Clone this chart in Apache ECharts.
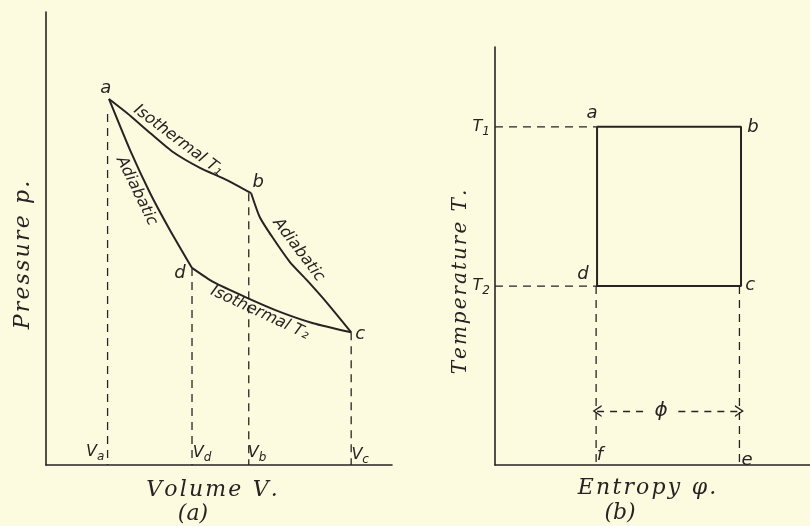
<!DOCTYPE html>
<html lang="en">
<head>
    <meta charset="UTF-8">
    <title>Carnot cycle</title>
    <script type="text/javascript" src="https://cdn.jsdelivr.net/npm/echarts/dist/echarts.min.js"></script>
</head>
<style>
    html, body {
        margin: 0;
        padding: 0;
        background-color: #fcfbe0;
    }
    #chart{
        width: 810px;
        height: 526px;
    }
</style>
<body>
<div id="chart"></div>
</body>
<script>
    // (a) pressure-volume diagram, arbitrary units 0..10
    var isoT1 = [[1.82, 8.08], [2.34, 7.77], [3.01, 7.33], [3.67, 6.91], [4.45, 6.56], [5.23, 6.29], [5.93, 6.00]];
    var adiabBC = [[5.93, 6.00], [6.18, 5.47], [6.56, 5.01], [7.05, 4.48], [7.54, 4.08], [8.12, 3.58], [8.82, 2.93]];
    var isoT2 = [[4.22, 4.35], [4.83, 4.04], [5.81, 3.69], [6.76, 3.38], [7.72, 3.13], [8.82, 2.93]];
    var adiabAD = [[1.82, 8.08], [2.43, 6.95], [3.01, 6.00], [3.58, 5.19], [4.22, 4.35]];
    // volume drops: [V, p at the corner]
    var volDrops = [[1.78, 7.75], [4.22, 4.35], [5.86, 6.00], [8.82, 2.93]];
    var volNames = ['a', 'd', 'b', 'c'];
    var pvCorners = [[1.73, 8.32], [6.13, 6.23], [3.87, 4.24], [9.08, 2.88]];
    var pvCornerNames = ['a', 'b', 'd', 'c'];
    var volLabelPos = [[1.42, 0.29], [4.51, 0.26], [6.10, 0.26], [9.08, 0.22]];
    var pvCurveText = ['Isothermal T\u2081', 'Adiabatic', 'Adiabatic', 'Isothermal T\u2082'];
    var pvCurveTextPos = [[3.82, 7.17], [2.62, 6.05], [7.30, 4.75], [6.18, 3.36]];
    var pvCurveTextRot = [-37, -64, -53, -25];

    // (b) temperature-entropy diagram
    var entropyAB = [3.24, 7.81];   // phi at a/d and b/c
    var tempLevels = [8.09, 4.28];  // T1, T2
    var tsCorners = [[3.08, 8.42], [8.19, 8.09], [8.10, 4.31], [2.79, 4.55]];
    var tsCornerNames = ['a', 'b', 'c', 'd'];
    var feLabelPos = [[3.33, 0.24], [8.00, 0.12]];
    var feNames = ['f', 'e'];
    var phiArrowT = 1.29;
    var phiGap = [4.72, 5.82];

    var ink = '#2a2222';
    var font = 'DejaVu Sans';

    var myChart = echarts.init(document.getElementById('chart'));

    function axisStyle(grid) {
        return {
            type: 'value', gridIndex: grid, min: 0, max: 10,
            axisLine: {show: true, onZero: false, lineStyle: {color: ink, width: 1.6}},
            axisTick: {show: false}, axisLabel: {show: false}, splitLine: {show: false}
        };
    }

    function curve(data) {
        return {
            type: 'line', xAxisIndex: 0, yAxisIndex: 0, data: data,
            smooth: 0.2, symbol: 'none', silent: true,
            lineStyle: {color: ink, width: 2}
        };
    }

    function dashed(data, grid) {
        return {
            type: 'line', xAxisIndex: grid, yAxisIndex: grid, data: data,
            symbol: 'none', silent: true,
            lineStyle: {color: ink, width: 1.3, type: [8, 6]}
        };
    }

    var labelRich = {
        m: {fontSize: 16, fontStyle: 'italic', fontFamily: font, color: ink, lineHeight: 22},
        s: {fontSize: 12, fontStyle: 'italic', fontFamily: font, color: ink, lineHeight: 12, verticalAlign: 'bottom'}
    };

    function textSeries(grid, items) {
        return {
            type: 'scatter', xAxisIndex: grid, yAxisIndex: grid, symbolSize: 0,
            clip: false, silent: true, data: items,
            itemStyle: {opacity: 1},
            label: {
                show: true, position: 'inside', color: ink, opacity: 1,
                fontFamily: font, fontStyle: 'italic', fontSize: 16, rich: labelRich
            }
        };
    }

    var series = [];
    series.push(curve(isoT1), curve(adiabBC), curve(isoT2), curve(adiabAD));
    volDrops.forEach(function (d) {
        series.push(dashed([[d[0], d[1]], [d[0], 0]], 0));
    });

    var pvTexts = [];
    pvCorners.forEach(function (p, i) {
        pvTexts.push({value: p, label: {formatter: pvCornerNames[i], fontSize: 18}});
    });
    volLabelPos.forEach(function (p, i) {
        pvTexts.push({value: p, label: {formatter: '{m|V}{s|' + volNames[i] + '}'}});
    });
    pvCurveTextPos.forEach(function (p, i) {
        pvTexts.push({value: p, label: {formatter: pvCurveText[i], rotate: pvCurveTextRot[i], fontSize: 16}});
    });
    series.push(textSeries(0, pvTexts));

    // T-S rectangle
    series.push({
        type: 'line', xAxisIndex: 1, yAxisIndex: 1, symbol: 'none', silent: true,
        data: [[entropyAB[0], tempLevels[0]], [entropyAB[1], tempLevels[0]],
            [entropyAB[1], tempLevels[1]], [entropyAB[0], tempLevels[1]], [entropyAB[0], tempLevels[0]]],
        lineStyle: {color: ink, width: 2}
    });
    series.push(dashed([[0, tempLevels[0]], [entropyAB[0], tempLevels[0]]], 1));
    series.push(dashed([[0, tempLevels[1]], [entropyAB[0], tempLevels[1]]], 1));
    series.push(dashed([[entropyAB[0] - 0.03, tempLevels[1]], [entropyAB[0] - 0.03, 0]], 1));
    series.push(dashed([[entropyAB[1] - 0.05, tempLevels[1]], [entropyAB[1] - 0.05, 0]], 1));

    // phi arrow
    var chevron = 'path://M5,0 L10,9 L8.6,9 L5,2.4 L1.4,9 L0,9 Z';
    series.push({
        type: 'line', xAxisIndex: 1, yAxisIndex: 1, data: [], silent: true,
        markLine: {
            silent: true, label: {show: false},
            lineStyle: {color: ink, width: 1.3, type: [7, 6]},
            symbolSize: [12, 9],
            data: [
                [{coord: [entropyAB[0], phiArrowT], symbol: chevron}, {coord: [phiGap[0], phiArrowT], symbol: 'none'}],
                [{coord: [phiGap[1], phiArrowT], symbol: 'none'}, {coord: [entropyAB[1] - 0.05, phiArrowT], symbol: chevron}]
            ]
        }
    });

    var tsTexts = [];
    tsCorners.forEach(function (p, i) {
        tsTexts.push({value: p, label: {formatter: tsCornerNames[i], fontSize: 18}});
    });
    feLabelPos.forEach(function (p, i) {
        tsTexts.push({value: p, label: {formatter: feNames[i], fontSize: 18}});
    });
    tempLevels.forEach(function (t, i) {
        tsTexts.push({value: [0, t], label: {formatter: '{m|T}{s|' + (i + 1) + '}', position: 'left', distance: 5}});
    });
    tsTexts.push({value: [(phiGap[0] + phiGap[1]) / 2, phiArrowT], label: {formatter: '\u03d5', fontSize: 20}});
    series.push(textSeries(1, tsTexts));

    function spaced(s) {
        return s.split('').join('\u200a');
    }

    function title(text, x, y, size, rot) {
        return {
            type: 'text', x: x, y: y, rotation: rot || 0, silent: true,
            style: {text: text, font: 'italic ' + size + 'px "DejaVu Serif"', fill: ink, align: 'center', verticalAlign: 'middle'}
        };
    }

    var option = {
        backgroundColor: '#fcfbe0',
        animation: false,
        grid: [
            {left: 46, top: 12, width: 346, height: 453},
            {left: 495, top: 47, width: 315, height: 418}
        ],
        xAxis: [axisStyle(0), axisStyle(1)],
        yAxis: [axisStyle(0), axisStyle(1)],
        graphic: [
            title(spaced('Pressure p.'), 23, 255, 22, Math.PI / 2),
            title(spaced('Volume V.'), 212, 490, 22),
            title('(a)', 193, 514, 22),
            title(spaced('Temperature T.'), 461, 282, 20, Math.PI / 2),
            title(spaced('Entropy \u03c6.'), 647, 488, 22),
            title('(b)', 620, 513, 22)
        ],
        series: series
    };
    myChart.setOption(option);
</script>
</html>
